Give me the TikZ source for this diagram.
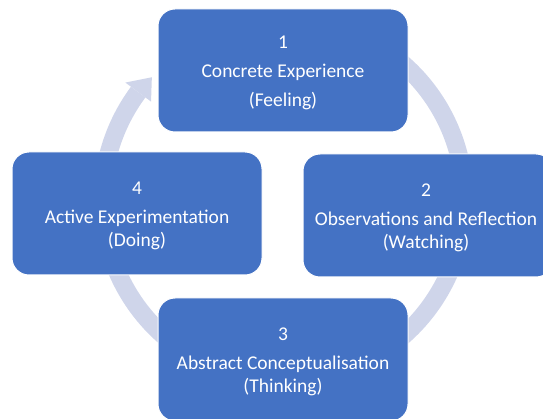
\documentclass[tikz,border=0pt]{standalone}
\usepackage{fontspec}
\setmainfont{Carlito}
\definecolor{boxblue}{RGB}{68,114,196}
\definecolor{ringcol}{RGB}{207,213,234}
\begin{document}
\begin{tikzpicture}[x=1pt,y=-1pt,
  stage/.style={draw=white, line width=1pt, fill=boxblue, rounded corners=17pt,
    minimum width=250pt, minimum height=123pt, inner sep=0pt},
  stagetext/.style={text=white, align=center, inner sep=0pt,
    font=\fontsize{19.5}{23}\selectfont},
  ring/.style={draw=ringcol, line width=18pt}]
\useasboundingbox (0,0) rectangle (543,419);
\coordinate (c) at (283.5,200);
\draw[ring] (c) ++(-60:181) arc[start angle=-60, end angle=216.6, radius=181];
\coordinate (hb1) at ([shift={(216.6:197)}]c);
\coordinate (hb2) at ([shift={(216.6:165)}]c);
\coordinate (ht) at ([shift={(223:180)}]c);
\fill[ringcol] (hb1) -- (ht) -- (hb2) -- cycle;
\node[stage] (n1) at (283,70.5) {};
\node[stage] (n2) at (428,215.5) {};
\node[stage] (n3) at (283,359.5) {};
\node[stage] (n4) at (137,213.5) {};
\node[stagetext] (t1) at ([yshift=-2.5pt]n1.center) {1\\[6pt]Concrete Experience\\[6pt](Feeling)};
\node[stagetext] (t2) at ([yshift=-2.5pt,xshift=-2pt]n2.center) {2\\[6pt]Observations and Reflection\\(Watching)};
\node[stagetext] (t3) at ([yshift=-2.5pt]n3.center) {3\\[6pt]Abstract Conceptualisation\\(Thinking)};
\node[stagetext] (t4) at ([yshift=-2.5pt]n4.center) {4\\[6pt]Active Experimentation\\(Doing)};
\end{tikzpicture}
\end{document}
